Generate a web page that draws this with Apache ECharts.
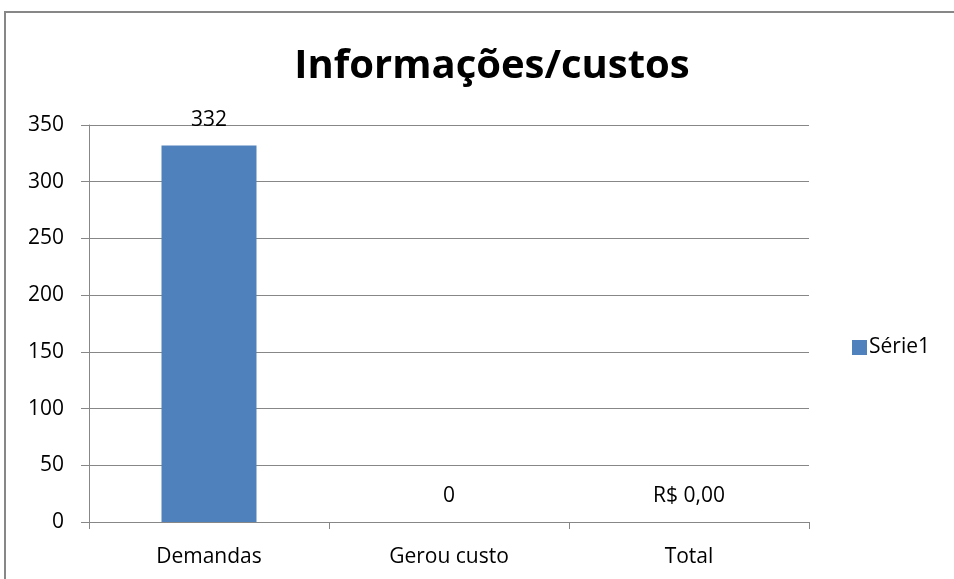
<!DOCTYPE html>
<html>
<head>
<meta charset="utf-8">
<script src="https://cdn.jsdelivr.net/npm/echarts@6/dist/echarts.min.js"></script>
<style>
  html, body { margin: 0; padding: 0; background: #fff; overflow: hidden; }
  .edge { position: absolute; background: #878787; }
  #top-edge { left: 4px; top: 11px; width: 2000px; height: 2px; }
  #left-edge { left: 4px; top: 11px; width: 2px; height: 568px; }
  #chart { width: 954px; height: 579px; position: absolute; left: 0; top: 0; }
</style>
</head>
<body>
<div class="edge" id="top-edge"></div>
<div class="edge" id="left-edge"></div>
<div id="chart"></div>
<script>
const categories = ['Demandas', 'Gerou custo', 'Total'];
const values = [332, 0, 0];
const valueLabels = ['332', '0', 'R$ 0,00'];
const seriesName = 'Série1';

const font = '"Open Sans", sans-serif';
const chart = echarts.init(document.getElementById('chart'), null, { renderer: 'canvas' });

chart.setOption({
  animation: false,
  title: {
    text: 'Informações/custos',
    left: 487, top: 42, textAlign: 'center',
    textStyle: { fontFamily: font, fontSize: 40, fontWeight: 'bold', color: '#000' }
  },
  legend: {
    orient: 'vertical',
    left: 847, top: 332,
    itemWidth: 15, itemHeight: 15, itemGap: 4,
    icon: 'rect',
    textStyle: { fontFamily: font, fontSize: 21, color: '#000', padding: [0, 0, 0, -3] },
    data: [seriesName]
  },
  grid: { left: 89, right: 145, top: 125, bottom: 57 },
  xAxis: {
    type: 'category',
    data: categories,
    axisLine: { lineStyle: { color: '#878787', width: 1 } },
    axisTick: { show: true, length: 7, lineStyle: { color: '#878787' } },
    axisLabel: { fontFamily: font, fontSize: 21, color: '#000', margin: 25 }
  },
  yAxis: {
    type: 'value',
    min: 0, max: 350, interval: 50,
    axisLine: { show: true, lineStyle: { color: '#878787', width: 1 } },
    axisTick: { show: true, length: 8, lineStyle: { color: '#878787' } },
    axisLabel: { fontFamily: font, fontSize: 21, color: '#000', margin: 25 },
    splitLine: { lineStyle: { color: '#878787', width: 1 } }
  },
  series: [{
    name: seriesName,
    type: 'bar',
    data: values,
    barWidth: 95,
    itemStyle: { color: '#4f81bd' },
    label: {
      show: true, position: 'top', distance: 15,
      fontFamily: font, fontSize: 21, color: '#000',
      formatter: p => valueLabels[p.dataIndex]
    }
  }]
});
</script>
</body>
</html>
